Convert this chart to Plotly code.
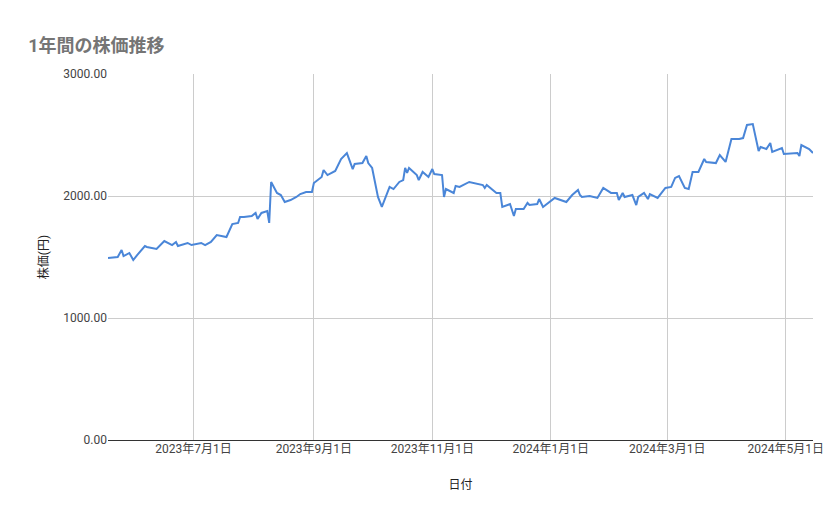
import plotly.graph_objects as go

dates = ["2023-05-18","2023-05-23","2023-05-25","2023-05-26","2023-05-29","2023-05-31","2023-06-02","2023-06-06","2023-06-07","2023-06-12",
"2023-06-16","2023-06-20","2023-06-22","2023-06-23","2023-06-28","2023-06-30","2023-07-05","2023-07-07","2023-07-10","2023-07-13",
"2023-07-18","2023-07-21","2023-07-24","2023-07-25","2023-07-27","2023-07-31","2023-08-02","2023-08-03","2023-08-05","2023-08-08",
"2023-08-09","2023-08-10","2023-08-13","2023-08-15","2023-08-17","2023-08-20","2023-08-23","2023-08-25","2023-08-28","2023-08-31",
"2023-09-01","2023-09-05","2023-09-06","2023-09-08","2023-09-12","2023-09-15","2023-09-18","2023-09-21","2023-09-22","2023-09-26",
"2023-09-28","2023-09-29","2023-10-01","2023-10-04","2023-10-06","2023-10-10","2023-10-12","2023-10-15","2023-10-17","2023-10-18",
"2023-10-19","2023-10-20","2023-10-24","2023-10-25","2023-10-27","2023-10-30","2023-11-01","2023-11-02","2023-11-06","2023-11-07",
"2023-11-08","2023-11-12","2023-11-13","2023-11-15","2023-11-20","2023-11-27","2023-11-28","2023-11-29","2023-12-04","2023-12-06",
"2023-12-07","2023-12-11","2023-12-13","2023-12-14","2023-12-18","2023-12-20","2023-12-21","2023-12-25","2023-12-26","2023-12-28",
"2024-01-03","2024-01-06","2024-01-09","2024-01-12","2024-01-15","2024-01-16","2024-01-17","2024-01-21","2024-01-25","2024-01-28",
"2024-02-01","2024-02-04","2024-02-05","2024-02-07","2024-02-08","2024-02-12","2024-02-14","2024-02-15","2024-02-18","2024-02-20",
"2024-02-21","2024-02-25","2024-02-29","2024-03-03","2024-03-05","2024-03-07","2024-03-10","2024-03-12","2024-03-14","2024-03-17",
"2024-03-19","2024-03-20","2024-03-21","2024-03-26","2024-03-28","2024-03-31","2024-04-03","2024-04-07","2024-04-09","2024-04-11",
"2024-04-14","2024-04-17","2024-04-18","2024-04-21","2024-04-23","2024-04-24","2024-04-29","2024-04-30","2024-05-07","2024-05-08",
"2024-05-09","2024-05-13","2024-05-15"]
prices = [1492,1500,1557,1508,1533,1475,1516,1590,1582,1566,
1631,1598,1623,1590,1615,1598,1615,1598,1623,1680,
1664,1770,1779,1828,1828,1836,1861,1811,1861,1877,
1779,2115,2025,2008,1951,1967,1992,2016,2033,2033,
2107,2156,2213,2172,2205,2303,2352,2221,2262,2270,
2328,2270,2230,1992,1910,2074,2057,2115,2131,2230,
2189,2230,2172,2131,2197,2156,2221,2180,2172,1992,
2057,2025,2082,2074,2115,2090,2066,2090,2025,2025,
1910,1934,1836,1893,1893,1943,1926,1934,1975,1910,
1984,1967,1951,2008,2049,2008,1992,2000,1984,2066,
2025,2025,1967,2025,1992,2008,1926,1992,2025,1975,
2016,1984,2066,2074,2148,2164,2066,2057,2197,2197,
2270,2303,2279,2270,2336,2279,2467,2467,2475,2582,
2590,2369,2402,2385,2434,2361,2393,2344,2352,2328,
2418,2385,2352]
tick_dates = ["2023-07-01","2023-09-01","2023-11-01","2024-01-01","2024-03-01","2024-05-01"]
tick_labels = ["2023年7月1日","2023年9月1日","2023年11月1日","2024年1月1日","2024年3月1日","2024年5月1日"]
y_ticks = [0,1000,2000,3000]

font = "Roboto, 'Noto Sans CJK JP', sans-serif"
fig = go.Figure(go.Scatter(x=dates, y=prices, mode="lines",
                           line=dict(color="#4a86d8", width=2)))
fig.update_layout(
    width=839, height=519, paper_bgcolor="white", plot_bgcolor="white",
    margin=dict(l=100, r=34, t=66, b=87),
    font=dict(family=font, size=12, color="#222"),
    title=dict(text="1年間の株価推移", x=0.024, y=0.94, xanchor="left",
               font=dict(size=18, color="#757575", family=font, weight="bold")),
    showlegend=False,
)
fig.update_xaxes(range=["2023-05-18","2024-05-15"], tickvals=tick_dates, ticktext=tick_labels,
                 showgrid=True, gridcolor="#cccccc", gridwidth=1, showline=False,
                 title=dict(text="日付", font=dict(size=12, color="#222"), standoff=25),
                 tickfont=dict(size=12, color="#444"), ticks="")
fig.update_yaxes(range=[0,3000], tickvals=y_ticks, tickformat=".2f",
                 showgrid=True, gridcolor="#cccccc", gridwidth=1, zeroline=True, zerolinecolor="#333",
                 zerolinewidth=1, title=dict(text="株価(円)", font=dict(size=12, color="#222"), standoff=12),
                 tickfont=dict(size=12, color="#444"), ticks="")
fig.write_html("out.html")
